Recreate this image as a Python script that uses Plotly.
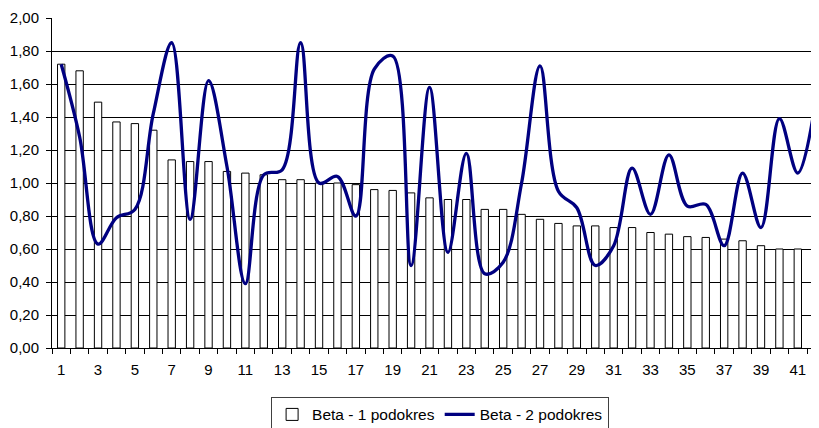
import plotly.graph_objects as go

categories = list(range(1, 43))
beta1 = [1.72, 1.68, 1.49, 1.37, 1.36, 1.32, 1.14, 1.13, 1.13, 1.07,
         1.06, 1.05, 1.02, 1.02, 1.00, 1.00, 0.99, 0.96, 0.955, 0.94,
         0.91, 0.90, 0.90, 0.84, 0.84, 0.81, 0.78, 0.755, 0.74, 0.74,
         0.73, 0.73, 0.70, 0.69, 0.675, 0.67, 0.66, 0.65, 0.62, 0.60,
         0.60, 0.58]
beta2 = [1.72, 1.28, 0.63, 0.79, 0.84, 1.42, 1.85, 0.78, 1.62, 1.10,
         0.39, 1.05, 1.08, 1.85, 1.00, 1.04, 0.80, 1.69, 1.77, 0.50,
         1.58, 0.58, 1.18, 0.45, 0.52, 1.00, 1.71, 0.95, 0.85, 0.50,
         0.62, 1.09, 0.81, 1.17, 0.86, 0.87, 0.62, 1.06, 0.73, 1.39,
         1.06, 1.52]
x_labels_vals = categories[::2]
x_labels_text = [str(v) for v in x_labels_vals]
y_ticks = [0.0, 0.2, 0.4, 0.6, 0.8, 1.0, 1.2, 1.4, 1.6, 1.8, 2.0]

font = dict(family="Liberation Sans, Arial, sans-serif", size=15, color="black")
legend_font = dict(family="Liberation Sans, Arial, sans-serif", size=15.5, color="black")

fig = go.Figure()
fig.add_trace(go.Bar(
    x=categories, y=beta1, name="Beta - 1 podokres",
    marker=dict(color="white", line=dict(color="black", width=1)),
))
fig.add_trace(go.Scatter(
    x=categories, y=beta2, name="Beta - 2 podokres", mode="lines",
    line=dict(color="#000080", width=3.3, shape="spline", smoothing=1),
))

fig.update_layout(
    width=811, height=420,
    margin=dict(l=44, r=0, t=10, b=80, autoexpand=False),
    paper_bgcolor="white", plot_bgcolor="white",
    font=font,
    separators=", ",
    bargap=0.6,
    showlegend=True,
    legend=dict(orientation="h", x=0.506, xanchor="center", y=-0.148, yanchor="top",
                bordercolor="#404040", borderwidth=1, font=legend_font,
                itemwidth=30, tracegroupgap=0),
    xaxis=dict(
        range=[0.5, 42.15], tickmode="array", tickvals=x_labels_vals, ticktext=x_labels_text,
        ticks="", showgrid=False, showline=True, linecolor="black", linewidth=1,
        zeroline=False, ticklabelstandoff=8, automargin=False,
        minor=dict(tickmode="linear", tick0=0.5, dtick=1, ticks="outside",
                   ticklen=5, tickcolor="black", tickwidth=1, showgrid=False),
    ),
    yaxis=dict(
        range=[0, 2.0], tickmode="array", tickvals=y_ticks, tickformat=".2f",
        ticks="outside", ticklen=5, tickcolor="black", automargin=False,
        ticklabelstandoff=4,
        showgrid=True, gridcolor="black", gridwidth=1,
        showline=True, linecolor="black", linewidth=1, zeroline=False,
    ),
)

fig.write_html("out.html")
